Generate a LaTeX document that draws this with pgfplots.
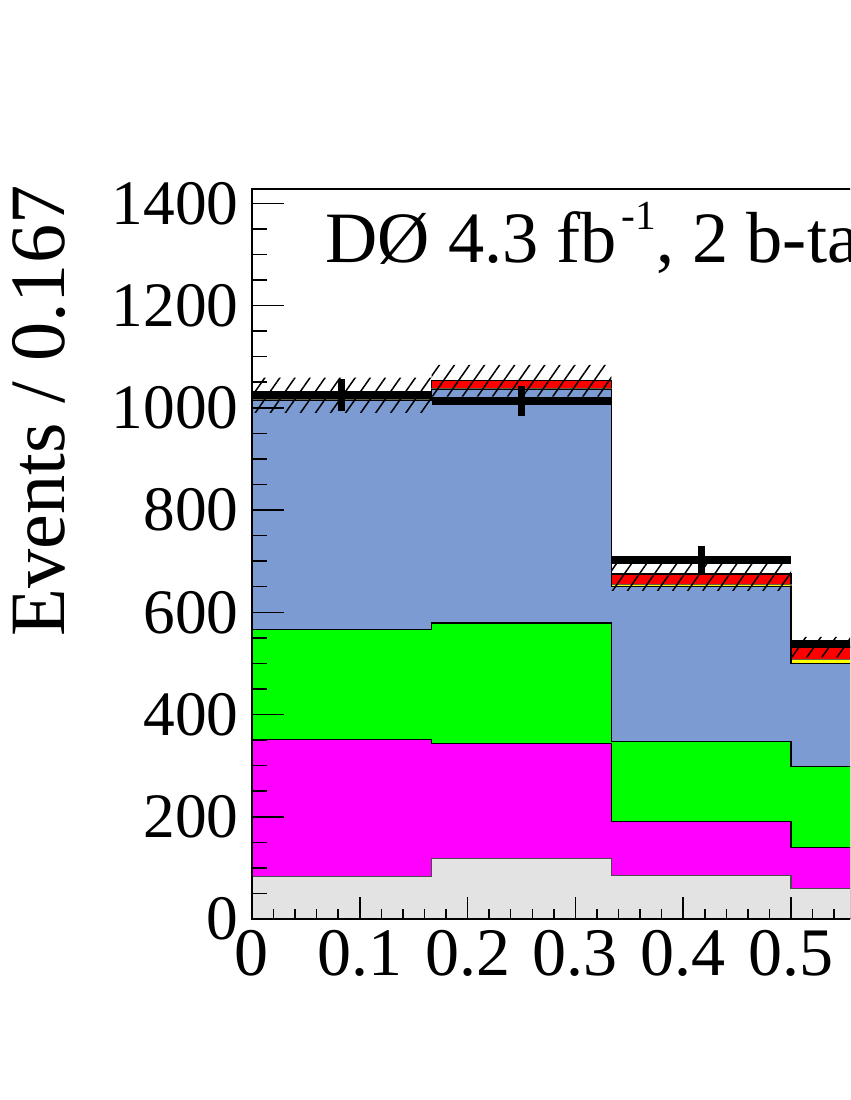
\documentclass[border=0pt]{standalone}
\usepackage{fontspec}
\setmainfont{Liberation Serif}
\usepackage{pgfplots}
\usepackage{pgfplotstable}
\pgfplotsset{compat=1.18}
\usetikzlibrary{patterns.meta}

\definecolor{bkgrey}{RGB}{227,227,227}
\definecolor{bkmag}{RGB}{255,0,255}
\definecolor{bkgreen}{RGB}{0,255,0}
\definecolor{bkblue}{RGB}{123,155,210}
\definecolor{bkyel}{RGB}{255,255,0}
\definecolor{bkred}{RGB}{255,0,0}

% cumulative stack heights per bin (left edge), last row closes the last bin
\pgfplotstableread{
x       grey mag green blue yel  red
0       83   351 566   1015 1016 1024
0.16667 119  344 579   1035 1037 1053
0.33333 85   190 348   650  654  675
0.5     59   140 298   499  507  532
0.66667 59   140 298   499  507  532
}\stack

\begin{document}
\begin{tikzpicture}
\useasboundingbox (0,0) rectangle (255pt,330pt);
\clip (0,0) rectangle (255pt,330pt);

\begin{axis}[
    at={(75.6pt,54.3pt)}, anchor=south west,
    scale only axis,
    width=323.4pt, height=219pt,
    xmin=0, xmax=1, ymin=0, ymax=1428,
    axis on top,
    axis line style={line width=0.45pt},
    every tick/.style={black, line width=0.45pt},
    tick align=inside, tick pos=left,
    xtick={0,0.1,0.2,0.3,0.4,0.5,0.6,0.7,0.8,0.9,1},
    ytick={0,200,400,600,800,1000,1200,1400},
    minor x tick num=4, minor y tick num=3,
    major tick length=9.6pt, minor tick length=4.5pt,
    xtick style={/pgfplots/major tick length=6.6pt, /pgfplots/minor tick length=3pt},
    /pgf/number format/assume math mode=true,
    /pgf/number format/1000 sep={},
    yticklabel style={font=\fontsize{19pt}{20pt}\selectfont, inner sep=0pt, xshift=-3.8pt},
    xticklabel style={font=\fontsize{20.4pt}{21pt}\selectfont, inner sep=0pt, yshift=-3.3pt},
]
% stacked backgrounds, drawn from the top of the stack downwards
\addplot[const plot, fill=bkred, draw=black, line width=0.35pt] table[x=x,y=red] {\stack} \closedcycle;
\addplot[const plot, fill=bkyel, draw=black!70!yellow, line width=0.35pt] table[x=x,y=yel] {\stack} \closedcycle;
\addplot[const plot, fill=bkblue, draw=black, line width=0.35pt] table[x=x,y=blue] {\stack} \closedcycle;
\addplot[const plot, fill=bkgreen, draw=black, line width=0.35pt] table[x=x,y=green] {\stack} \closedcycle;
\addplot[const plot, fill=bkmag, draw=black, line width=0.35pt] table[x=x,y=mag] {\stack} \closedcycle;
\addplot[const plot, fill=bkgrey, draw=black!70, line width=0.35pt] table[x=x,y=grey] {\stack} \closedcycle;

% systematic uncertainty band
\addplot[draw=none, pattern={Lines[angle=55,distance=3.7pt,line width=0.45pt]}, pattern color=black]
  coordinates {
    (0,1059) (0.16667,1059) (0.16667,1084) (0.33333,1084)
    (0.33333,708) (0.5,708) (0.5,552) (0.66667,552)
    (0.66667,512) (0.5,512) (0.5,642) (0.33333,642)
    (0.33333,1022) (0.16667,1022) (0.16667,990) (0,990)
  } -- cycle;

% data
\addplot[draw=none, mark=none,
    error bars/.cd, x dir=both, x explicit, y dir=both, y explicit,
    error mark=none, error bar style={draw=black, line width=2.2pt}]
  coordinates {
    (0.08333,1025) +- (0.08333,31)
    (0.25,1013) +- (0.08333,30)
    (0.41667,702) +- (0.08333,27)
    (0.58333,538) +- (0.08333,23)
  };
\end{axis}

\node[rotate=90, anchor=base east, inner sep=0pt, font=\fontsize{23.5pt}{24pt}\selectfont]
  at (19.5pt,274.5pt) {Events / 0.167};
\node[anchor=base west, inner sep=0pt, font=\fontsize{21.7pt}{22pt}\selectfont]
  at (97.5pt,251.1pt) {DØ 4.3 fb\kern1.5pt\raisebox{0.46em}{\fontsize{12.4pt}{13pt}\selectfont -1}, 2 b-tag};
\end{tikzpicture}
\end{document}
